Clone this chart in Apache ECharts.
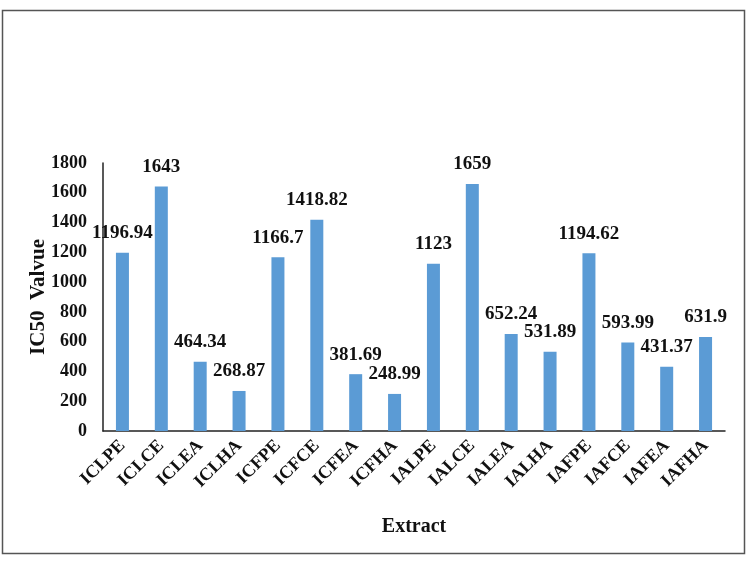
<!DOCTYPE html>
<html>
<head>
<meta charset="utf-8">
<script src="https://cdn.jsdelivr.net/npm/echarts@6/dist/echarts.min.js"></script>
<style>
  html, body { margin: 0; padding: 0; background: #fff; }
  #main { width: 750px; height: 563px; }
</style>
</head>
<body>
<div id="main"></div>
<script>
const categories = ["ICLPE", "ICLCE", "ICLEA", "ICLHA", "ICFPE", "ICFCE", "ICFEA", "ICFHA",
  "IALPE", "IALCE", "IALEA", "IALHA", "IAFPE", "IAFCE", "IAFEA", "IAFHA"];
const ic50Values = [1196.94, 1643, 464.34, 268.87, 1166.7, 1418.82, 381.69, 248.99,
  1123, 1659, 652.24, 531.89, 1194.62, 593.99, 431.37, 631.9];

const font = "'Liberation Serif', 'Times New Roman', serif";

const chart = echarts.init(document.getElementById("main"));
chart.setOption({
  animation: false,
  grid: { left: 103, right: 25, top: 163, bottom: 132 },
  graphic: [{
    type: "rect",
    shape: { x: 2.5, y: 10.5, width: 742, height: 543 },
    style: { fill: "none", stroke: "#555", lineWidth: 1.5 }
  }],
  xAxis: {
    type: "category",
    data: categories,
    name: "Extract",
    nameLocation: "middle",
    nameGap: 86,
    nameTextStyle: { fontFamily: font, fontWeight: "bold", fontSize: 20, color: "#111" },
    axisLine: { lineStyle: { color: "#222", width: 1.5 } },
    axisTick: { show: false },
    axisLabel: {
      rotate: 45, interval: 0, margin: 12,
      fontFamily: font, fontWeight: "bold", fontSize: 18, color: "#111"
    }
  },
  yAxis: {
    type: "value",
    min: 0, max: 1800, interval: 200,
    name: "IC50  Valvue",
    nameLocation: "middle",
    nameGap: 54,
    nameMoveOverlap: false,
    nameTextStyle: { fontFamily: font, fontWeight: "bold", fontSize: 21, color: "#111" },
    axisLine: { show: true, lineStyle: { color: "#222", width: 1.5 } },
    axisTick: { show: false },
    splitLine: { show: false },
    axisLabel: {
      formatter: v => String(v),
      fontFamily: font, fontWeight: "bold", fontSize: 18, color: "#111", margin: 16
    }
  },
  series: [{
    type: "bar",
    data: ic50Values,
    barWidth: 13,
    itemStyle: { color: "#5B9BD5" },
    label: {
      show: true, position: "top", distance: 10,
      fontFamily: font, fontWeight: "bold", fontSize: 19, color: "#111"
    }
  }]
});
</script>
</body>
</html>
